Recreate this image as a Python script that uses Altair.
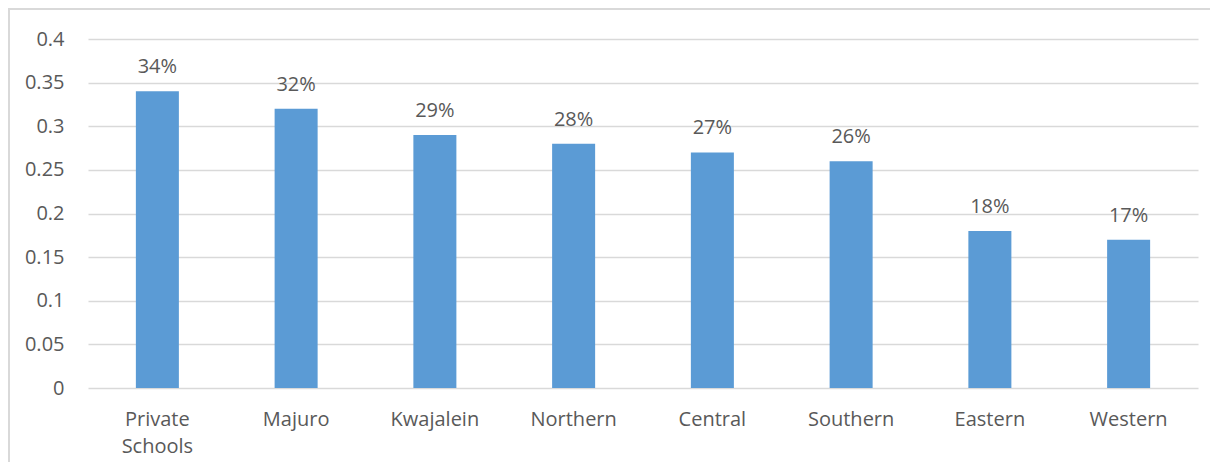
import altair as alt
import pandas as pd

categories = ["Private Schools", "Majuro", "Kwajalein", "Northern", "Central", "Southern", "Eastern", "Western"]
values = [0.34, 0.32, 0.29, 0.28, 0.27, 0.26, 0.18, 0.17]
labels = ["34%", "32%", "29%", "28%", "27%", "26%", "18%", "17%"]

df = pd.DataFrame({"cat": categories, "val": values, "lab": labels})

FONT = "Open Sans"
TXT = "#595959"
FS = 20

x = alt.X("cat:N", sort=categories, title=None,
          scale=alt.Scale(paddingInner=0.69, paddingOuter=0.345),
          axis=alt.Axis(labelAngle=0, ticks=False, domain=False, grid=False,
                        labelExpr="split(datum.label, ' ')",
                        labelLineHeight=27, labelPadding=21,
                        labelFont=FONT, labelFontSize=FS, labelColor=TXT))
y = alt.Y("val:Q", title=None,
          scale=alt.Scale(domain=[0, 0.4]),
          axis=alt.Axis(values=[0, 0.05, 0.1, 0.15, 0.2, 0.25, 0.3, 0.35, 0.4],
                        format="~g", ticks=False, domain=False,
                        gridColor="#D9D9D9", gridWidth=1.3,
                        labelPadding=24, labelFont=FONT, labelFontSize=FS,
                        labelColor=TXT))

base = alt.Chart(df)
border = base.mark_rect(fill="transparent", stroke="#D9D9D9", strokeWidth=2, clip=False).encode(
    x=alt.value(-79), x2=alt.value(1160), y=alt.value(-30), y2=alt.value(500))
bars = base.mark_bar(color="#5B9BD5").encode(x=x, y=y)
text = base.mark_text(dy=-14, baseline="bottom", font=FONT, fontSize=FS, color=TXT).encode(
    x=alt.X("cat:N", sort=categories), y="val:Q", text="lab:N")

chart = alt.layer(border, bars, text).properties(
    width=1110, height=349,
    background="white",
    autosize=alt.AutoSizeParams(type="none"),
    padding={"left": 80, "top": 31, "right": 12, "bottom": 74},
).configure_view(strokeWidth=0, stroke="transparent")

chart.save("out.html", embed_options={"renderer": "svg", "actions": False})
